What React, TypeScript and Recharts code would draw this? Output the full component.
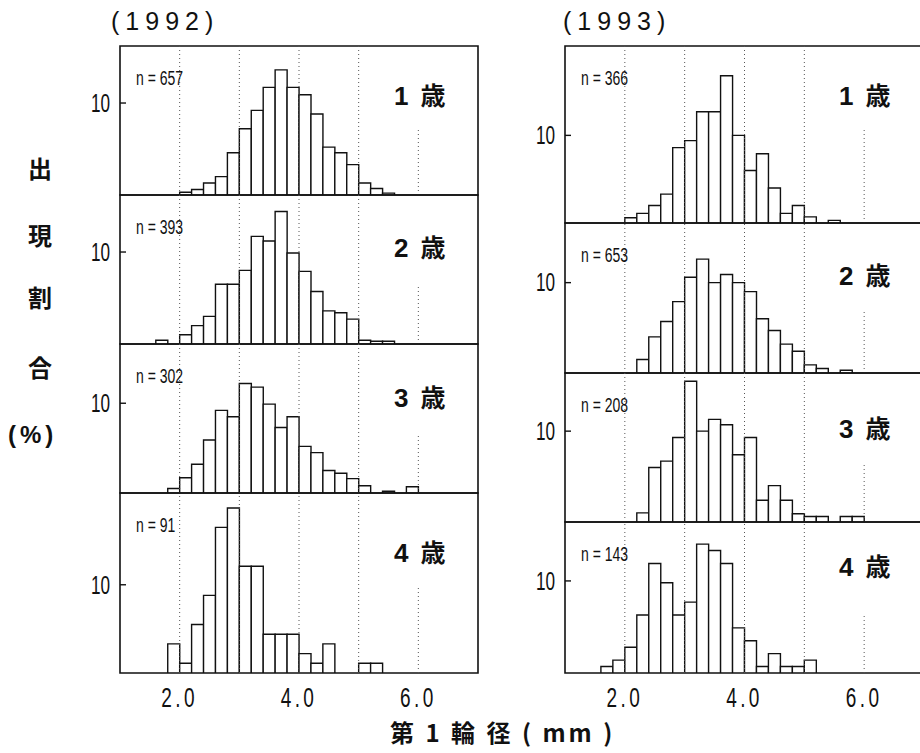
import { BarChart, Bar, XAxis, YAxis, ReferenceLine, ReferenceArea } from 'recharts';

// 0.2 mm bins, labelled by their lower edge
const BINS = [
  '1.0', '1.2', '1.4', '1.6', '1.8', '2.0', '2.2', '2.4', '2.6', '2.8',
  '3.0', '3.2', '3.4', '3.6', '3.8', '4.0', '4.2', '4.4', '4.6', '4.8',
  '5.0', '5.2', '5.4', '5.6', '5.8', '6.0', '6.2', '6.4', '6.6', '6.8',
];

// percentage of fish per bin
const Y1992_AGE1 = [0, 0, 0, 0, 0, 0.3, 0.6, 1.3, 2.0, 4.6, 7.2, 9.2, 11.7, 13.6, 11.7, 10.9, 8.8, 5.2, 4.6, 3.3, 1.3, 0.7, 0.2, 0, 0, 0, 0, 0, 0, 0];
const Y1992_AGE2 = [0, 0, 0, 0.4, 0, 1.0, 2.0, 3.0, 6.5, 6.5, 8.0, 11.7, 11.2, 14.4, 9.9, 7.9, 5.7, 3.6, 3.4, 2.7, 0.4, 0.3, 0.3, 0, 0, 0, 0, 0, 0, 0];
const Y1992_AGE3 = [0, 0, 0, 0, 0.5, 1.7, 3.2, 5.9, 9.2, 8.5, 12.2, 11.8, 9.9, 7.3, 8.5, 5.2, 4.5, 2.5, 2.2, 1.6, 0.8, 0, 0.2, 0, 0.7, 0, 0, 0, 0, 0];
const Y1992_AGE4 = [0, 0, 0, 0, 3.3, 1.1, 5.5, 8.8, 16.5, 18.7, 12.1, 12.1, 4.4, 4.4, 4.4, 2.2, 1.1, 3.3, 0, 0, 1.1, 1.1, 0, 0, 0, 0, 0, 0, 0, 0];

const Y1993_AGE1 = [0, 0, 0, 0, 0, 0.6, 1.1, 2.0, 3.3, 8.6, 9.4, 12.7, 12.7, 16.8, 10.0, 6.0, 7.9, 4.0, 1.1, 2.0, 0.7, 0, 0.3, 0, 0, 0, 0, 0, 0, 0];
const Y1993_AGE2 = [0, 0, 0, 0, 0, 0, 1.5, 4.0, 5.7, 7.9, 10.6, 12.6, 10.0, 10.9, 10.0, 9.0, 6.0, 4.7, 3.2, 2.4, 0.9, 0.5, 0, 0.3, 0, 0, 0, 0, 0, 0];
const Y1993_AGE3 = [0, 0, 0, 0, 0, 0, 1.0, 6.0, 6.7, 9.3, 15.5, 10.0, 11.3, 10.7, 7.4, 9.3, 2.4, 4.0, 2.4, 0.9, 0.6, 0.6, 0, 0.6, 0.6, 0, 0, 0, 0, 0];
const Y1993_AGE4 = [0, 0, 0, 0.7, 1.4, 2.8, 6.3, 11.9, 9.8, 6.3, 7.7, 14.0, 13.3, 11.9, 4.9, 3.5, 0.7, 2.1, 0.7, 0.7, 1.4, 0, 0, 0, 0, 0, 0, 0, 0, 0];

const N_1992 = [657, 393, 302, 91];
const N_1993 = [366, 653, 208, 143];
const AGE_NUM = ['1', '2', '3', '4'];

const X_TICKS = ['2.0', '4.0', '6.0'];
const GRID_X = ['2.0', '3.0', '4.0', '5.0'];
const Y_TICKS = [10];

const SANS = '"Liberation Sans", Arial, sans-serif';
const CJK = '"Noto Sans CJK JP", "Noto Sans CJK SC", sans-serif';

const YW = 50;
const M = 2;
const AXIS_H = 44;
const TICK_SIZE = 4;
const TICK_MARGIN = 6;

function YTick(props: any) {
  const { x, y, payload } = props;
  const axisX = x + TICK_SIZE + TICK_MARGIN;
  return (
    <g>
      <text
        transform={`translate(${x},${y}) scale(0.66,1)`}
        textAnchor="end"
        dominantBaseline="central"
        fontFamily={SANS}
        fontSize={26}
        fill="#111"
      >
        {payload.value}
      </text>
      <line x1={axisX} x2={axisX + 6} y1={y} y2={y} stroke="#111" strokeWidth={1.4} />
    </g>
  );
}

function XTick(props: any) {
  const { x, y, payload, band } = props;
  return (
    <text
      transform={`translate(${x - band / 2},${y}) scale(0.68,1)`}
      textAnchor="middle"
      dominantBaseline="hanging"
      fontFamily={SANS}
      fontSize={28}
      letterSpacing={5}
      fill="#111"
    >
      {payload.value}
    </text>
  );
}

type PanelProps = {
  values: number[];
  n: number;
  age: string;
  plotLeft: number;
  plotW: number;
  top: number;
  plotH: number;
  yMax: number;
  sixCut: number;
  ageDy: number;
  last: boolean;
};

function Panel({ values, n, age, plotLeft, plotW, top, plotH, yMax, sixCut, ageDy, last }: PanelProps) {
  const rows = BINS.map((bin, i) => ({ bin, pct: values[i] > 0 ? values[i] : null }));
  const band = plotW / BINS.length;
  return (
    <div style={{ position: 'absolute', left: plotLeft - YW, top: top - M }}>
      <BarChart
        width={YW + plotW + M}
        height={plotH + 2 * M + (last ? AXIS_H : 0)}
        data={rows}
        margin={{ top: M, right: M, bottom: M, left: 0 }}
        barCategoryGap={0}
        barGap={0}
      >
        <XAxis
          dataKey="bin"
          hide={!last}
          height={AXIS_H}
          ticks={X_TICKS}
          interval={0}
          tickLine={false}
          axisLine={false}
          tickSize={6}
          tickMargin={7}
          tick={<XTick band={band} />}
        />
        <YAxis
          domain={[0, yMax]}
          allowDataOverflow
          ticks={Y_TICKS}
          width={YW}
          tickLine={false}
          axisLine={false}
          tickSize={TICK_SIZE}
          tickMargin={TICK_MARGIN}
          tick={<YTick />}
        />
        {GRID_X.map((x) => (
          <ReferenceLine key={x} x={x} position="start" stroke="#555" strokeDasharray="1 3" />
        ))}
        <ReferenceLine
          position="start"
          segment={[{ x: '6.0', y: 0 }, { x: '6.0', y: sixCut }]}
          stroke="#555"
          strokeDasharray="1 3"
        />
        <Bar
          dataKey="pct"
          fill="#fff"
          stroke="#111"
          strokeWidth={1.4}
          isAnimationActive={false}
        />
        <ReferenceArea
          y1={0}
          y2={yMax}
          fill="none"
          stroke="#111"
          strokeWidth={1.6}
        />
      </BarChart>
      <div
        style={{
          position: 'absolute', left: YW + 16, top: M + 32, transform: 'translateY(-50%) scaleX(0.7)',
          transformOrigin: 'left center', fontFamily: SANS, fontSize: 20, lineHeight: 1, color: '#111',
          whiteSpace: 'nowrap',
        }}
      >
        n = {n}
      </div>
      <div
        style={{
          position: 'absolute', left: YW + 274, top: M + ageDy, transform: 'translateY(-50%)',
          lineHeight: 1, color: '#111', whiteSpace: 'nowrap',
        }}
      >
        <span style={{ fontFamily: SANS, fontSize: 26, fontWeight: 'bold' }}>{age}</span>
        <span style={{ fontFamily: CJK, fontSize: 25, fontWeight: 700, marginLeft: 12 }}>歳</span>
      </div>
    </div>
  );
}

const LEFT_COL = { plotLeft: 120, plotW: 358 };
const RIGHT_COL = { plotLeft: 565, plotW: 359 };

const LEFT_LAYOUT = [
  { top: 46, plotH: 149, yMax: 16.2, sixCut: 7.3, ageDy: 49 },
  { top: 195, plotH: 149, yMax: 16.2, sixCut: 6.5, ageDy: 52 },
  { top: 344, plotH: 149, yMax: 16.6, sixCut: 6.6, ageDy: 53 },
  { top: 493, plotH: 180, yMax: 20.4, sixCut: 9.7, ageDy: 59 },
];
const RIGHT_LAYOUT = [
  { top: 46, plotH: 177, yMax: 20.2, sixCut: 10.7, ageDy: 49 },
  { top: 223, plotH: 150, yMax: 16.6, sixCut: 7, ageDy: 52 },
  { top: 373, plotH: 149, yMax: 16.4, sixCut: 6.5, ageDy: 55 },
  { top: 522, plotH: 151, yMax: 16.4, sixCut: 6.2, ageDy: 44 },
];

const SERIES_1992 = [Y1992_AGE1, Y1992_AGE2, Y1992_AGE3, Y1992_AGE4];
const SERIES_1993 = [Y1993_AGE1, Y1993_AGE2, Y1993_AGE3, Y1993_AGE4];

const Y_LABEL = ['出', '現', '割', '合'];
const Y_LABEL_Y = [168, 235, 297, 367];

export default function App() {
  return (
    <div
      style={{
        position: 'absolute', left: 0, top: 0, width: 920, height: 753,
        overflow: 'hidden', background: '#fff',
      }}
    >
      <div style={{ position: 'absolute', left: 111, top: 9, fontFamily: SANS, fontSize: 25, letterSpacing: 6, color: '#111', lineHeight: 1 }}>
        (1992)
      </div>
      <div style={{ position: 'absolute', left: 563, top: 9, fontFamily: SANS, fontSize: 25, letterSpacing: 6, color: '#111', lineHeight: 1 }}>
        (1993)
      </div>

      {Y_LABEL.map((ch, i) => (
        <div
          key={ch}
          style={{
            position: 'absolute', left: 28, top: Y_LABEL_Y[i], transform: 'translateY(-50%)',
            fontFamily: CJK, fontSize: 24, fontWeight: 700, lineHeight: 1, color: '#111',
          }}
        >
          {ch}
        </div>
      ))}
      <div
        style={{
          position: 'absolute', left: 8, top: 435, transform: 'translateY(-50%)',
          fontFamily: SANS, fontSize: 24, fontWeight: 'bold', letterSpacing: 4, lineHeight: 1, color: '#111',
        }}
      >
        (%)
      </div>

      {LEFT_LAYOUT.map((p, i) => (
        <Panel
          key={`l${i}`}
          values={SERIES_1992[i]}
          n={N_1992[i]}
          age={AGE_NUM[i]}
          {...LEFT_COL}
          {...p}
          last={i === 3}
        />
      ))}
      {RIGHT_LAYOUT.map((p, i) => (
        <Panel
          key={`r${i}`}
          values={SERIES_1993[i]}
          n={N_1993[i]}
          age={AGE_NUM[i]}
          {...RIGHT_COL}
          {...p}
          last={i === 3}
        />
      ))}

      <div
        style={{
          position: 'absolute', left: 390, top: 732, transform: 'translateY(-50%)',
          fontFamily: CJK, fontSize: 24, fontWeight: 700, letterSpacing: 3, lineHeight: 1, color: '#111', whiteSpace: 'pre',
        }}
      >
        第 1 輪 径 ( mm )
      </div>
    </div>
  );
}
